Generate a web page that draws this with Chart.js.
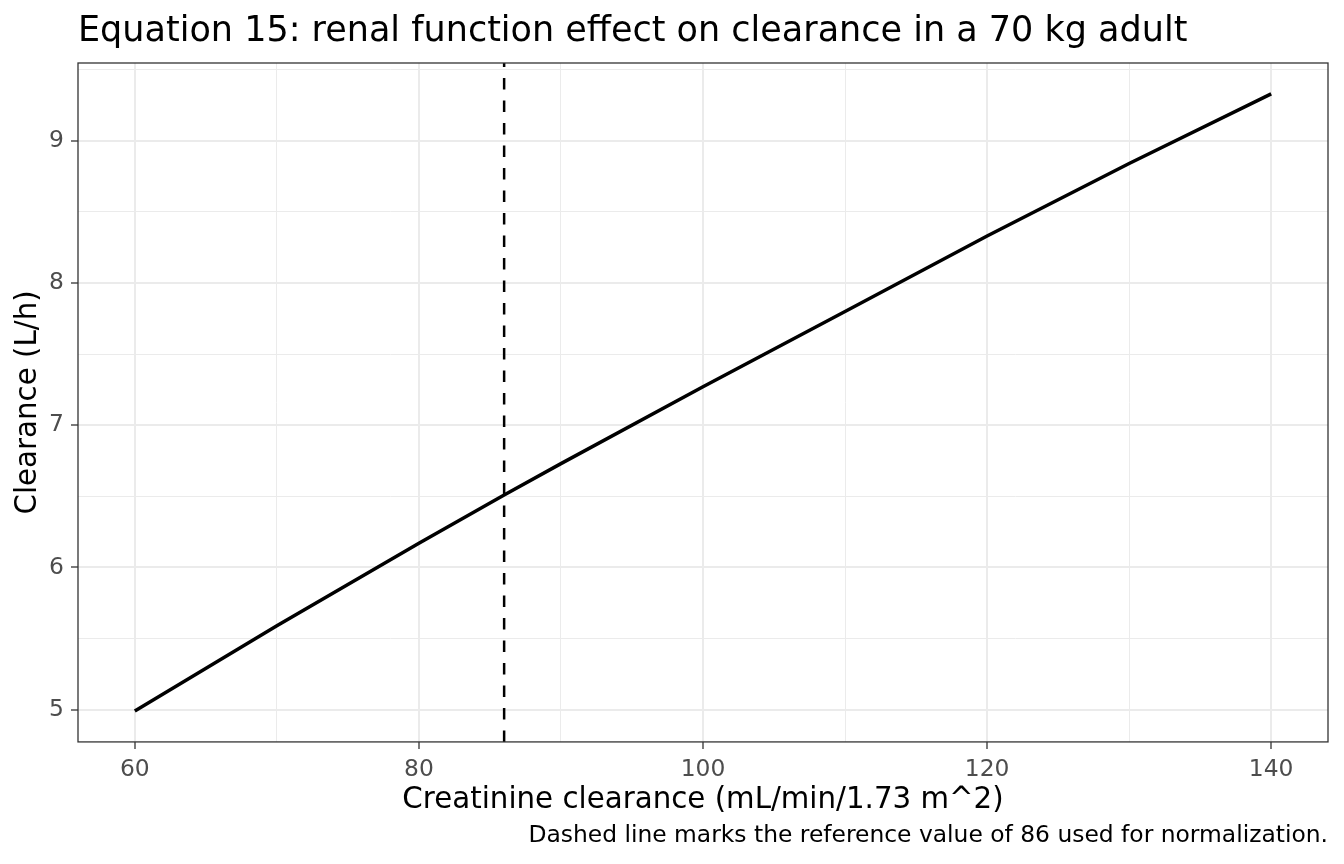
<!DOCTYPE html>
<html>
<head>
<meta charset="utf-8">
<script src="https://cdn.jsdelivr.net/npm/chart.js@4.4.1/dist/chart.umd.min.js"></script>
<style>
  html, body { margin: 0; padding: 0; background: #ffffff; }
  #wrap { width: 1344px; height: 864px; }
</style>
</head>
<body>
<div id="wrap"><canvas id="clChart" width="1344" height="864"></canvas></div>
<script>
// Values
const crcl = [60, 70, 80, 86, 90, 100, 110, 120, 130, 140];          // mL/min/1.73 m^2
const clearance = [4.99, 5.59, 6.17, 6.51, 6.73, 7.27, 7.80, 8.33, 8.84, 9.33]; // L/h
const referenceCrcl = 86;

// axis limits and tick positions
const xLimits = [56, 144];
const yLimits = [4.773, 9.547];
const xGridValues = [60, 70, 80, 90, 100, 110, 120, 130, 140];
const xTickLabels = [60, 80, 100, 120, 140];
const yGridValues = [5, 5.5, 6, 6.5, 7, 7.5, 8, 8.5, 9, 9.5];
const yTickLabels = [5, 6, 7, 8, 9];

const FONT = '"DejaVu Sans", sans-serif';

function isMajor(list, v) {
    return list.some(t => Math.abs(t - v) < 1e-9);
}

// ggplot-like panel border on all four sides
const panelBorder = {
    id: 'panelBorder',
    afterDraw(chart) {
        const a = chart.chartArea;
        const ctx = chart.ctx;
        ctx.save();
        ctx.strokeStyle = '#333333';
        ctx.lineWidth = 1.3;
        ctx.strokeRect(a.left, a.top, a.right - a.left, a.bottom - a.top);
        ctx.restore();
    }
};

const ctx = document.getElementById('clChart').getContext('2d');

new Chart(ctx, {
    type: 'line',
    data: {
        datasets: [
            {
                label: 'Clearance',
                data: crcl.map((x, i) => ({ x: x, y: clearance[i] })),
                borderColor: '#000000',
                borderWidth: 3.5,
                borderJoinStyle: 'round',
                pointRadius: 0,
                tension: 0,
                fill: false
            },
            {
                label: 'Reference',
                data: [{ x: referenceCrcl, y: yLimits[0] }, { x: referenceCrcl, y: yLimits[1] }],
                borderColor: '#000000',
                borderWidth: 2.5,
                borderDash: [11.5, 11],
                pointRadius: 0,
                fill: false
            }
        ]
    },
    options: {
        responsive: false,
        animation: false,
        layout: { padding: { left: 0, right: 16, top: 0, bottom: 14 } },
        plugins: {
            legend: { display: false },
            tooltip: { enabled: false },
            title: {
                display: true,
                text: 'Equation 15: renal function effect on clearance in a 70 kg adult',
                align: 'start',
                fullSize: false,
                color: '#000000',
                font: { family: FONT, size: 35, weight: 'normal' },
                padding: { top: 11, bottom: 10 }
            },
            subtitle: {
                display: true,
                position: 'bottom',
                align: 'end',
                text: 'Dashed line marks the reference value of 86 used for normalization.',
                color: '#000000',
                font: { family: FONT, size: 23.4, weight: 'normal' },
                padding: { top: 4, bottom: 0 }
            }
        },
        scales: {
            x: {
                type: 'linear',
                min: xLimits[0],
                max: xLimits[1],
                afterBuildTicks: scale => { scale.ticks = xGridValues.map(v => ({ value: v })); },
                afterFit: scale => { scale.height = 76; },
                ticks: {
                    autoSkip: false,
                    maxRotation: 0,
                    padding: 7,
                    color: '#4d4d4d',
                    font: { family: FONT, size: 23.4 },
                    callback: v => isMajor(xTickLabels, v) ? String(v) : ''
                },
                grid: {
                    color: '#ebebeb',
                    lineWidth: c => isMajor(xTickLabels, c.tick.value) ? 2 : 1,
                    tickLength: 7,
                    tickColor: c => isMajor(xTickLabels, c.tick.value) ? '#333333' : 'rgba(0,0,0,0)',
                    tickWidth: 1.3
                },
                border: { display: false },
                title: {
                    display: true,
                    text: 'Creatinine clearance (mL/min/1.73 m^2)',
                    color: '#000000',
                    font: { family: FONT, size: 29.3 },
                    padding: { top: 0, bottom: 0 }
                }
            },
            y: {
                type: 'linear',
                min: yLimits[0],
                max: yLimits[1],
                afterBuildTicks: scale => { scale.ticks = yGridValues.map(v => ({ value: v })); },
                afterFit: scale => { scale.width = 78; },
                ticks: {
                    autoSkip: false,
                    padding: 7,
                    color: '#4d4d4d',
                    font: { family: FONT, size: 23.4 },
                    callback: v => isMajor(yTickLabels, v) ? String(v) : ''
                },
                grid: {
                    color: '#ebebeb',
                    lineWidth: c => isMajor(yTickLabels, c.tick.value) ? 2 : 1,
                    tickLength: 7,
                    tickColor: c => isMajor(yTickLabels, c.tick.value) ? '#333333' : 'rgba(0,0,0,0)',
                    tickWidth: 1.3
                },
                border: { display: false },
                title: {
                    display: true,
                    text: 'Clearance (L/h)',
                    color: '#000000',
                    font: { family: FONT, size: 29.3 },
                    padding: { top: 11, bottom: 0 }
                }
            }
        }
    },
    plugins: [panelBorder]
});
</script>
</body>
</html>
